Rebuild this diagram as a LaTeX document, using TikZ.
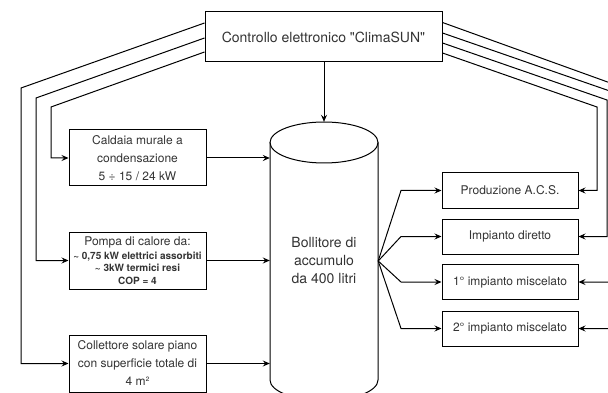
\documentclass[tikz,border=0pt]{standalone}
\usepackage{fontspec}
\newfontfamily\hv{TeX Gyre Heros}
\usetikzlibrary{arrows.meta}
\begin{document}
\begin{tikzpicture}[x=1pt,y=-1pt,
  conn/.style={line width=1pt, draw=black},
  arr/.style={conn, -{Stealth[length=7pt,width=6pt,inset=2.5pt]}},
  box/.style={draw=black, line width=1pt, fill=white, text=black!80, align=center, inner sep=0pt},
  ftw/.style={font=\hv\fontsize{12}{18}\selectfont},
  ffourteen/.style={font=\hv\fontsize{14}{18}\selectfont},
  lbox/.style={box, ftw, minimum width=137pt, minimum height=57pt},
  rbox/.style={box, ftw, minimum width=136pt, minimum height=35pt},
]
\useasboundingbox (0,0) rectangle (608,393);
\clip (0,0) rectangle (608,393);

% nodes
\node[box, ffourteen, minimum width=237pt, minimum height=50pt] (ctrl) at (323.5,37) {Controllo elettronico "ClimaSUN"};
\node[lbox, minimum height=56pt] (caldaia) at (137.5,158) {Caldaia murale a\\condensazione\\5 ÷ 15 / 24 kW};
\node[lbox, font=\hv\fontsize{10}{12.5}\selectfont\bfseries] (pompa) at (137.5,260.5) {{\mdseries\fontsize{12}{14}\selectfont Pompa di calore da:}\\[1pt]\textasciitilde{} 0,75 kW elettrici assorbiti\\\textasciitilde{} 3kW termici resi\\COP = 4};
\node[lbox] (coll) at (137.5,363.5) {Collettore solare piano\\con superficie totale di\\4 m²};

% cylinder
\draw[conn] (324,142.5) ellipse [x radius=54pt, y radius=20.5pt];
\draw[conn] (270,142.5) -- (270,380) arc[start angle=180, end angle=360, x radius=54pt, y radius=20.5pt] -- (378,142.5);
\node[ffourteen, text=black!80, align=center, minimum width=108pt, minimum height=278pt, inner sep=0pt] (cyl) at (324,261) {Bollitore di\\accumulo\\da 400 litri};

\node[rbox] (acs) at (510,190.5) {Produzione A.C.S.};
\node[rbox] (dir) at (510,236.5) {Impianto diretto};
\node[rbox] (m1) at (510,282) {1° impianto miscelato};
\node[rbox] (m2) at (510,328.5) {2° impianto miscelato};

% connectors into the tank
\draw[arr] (ctrl.south -| cyl.north) -- (cyl.north);
\draw[arr] (caldaia.east) -- (caldaia.east -| cyl.west);
\draw[arr] (pompa.east) -- (pompa.east -| cyl.west);
\draw[arr] (coll.east) -- (coll.east -| cyl.west);

% fan out of the tank
\coordinate (fx) at (401,0);
\draw[arr] (cyl.east) -- (fx |- acs.west) -- (acs.west);
\draw[arr] (cyl.east) -- (fx |- dir.west) -- (dir.west);
\draw[arr] (cyl.east) -- (fx |- m1.west) -- (m1.west);
\draw[arr] (cyl.east) -- (fx |- m2.west) -- (m2.west);

% control lines left
\coordinate (la) at (21,88);
\coordinate (lb) at (36,98);
\coordinate (lc) at (51,107);
\draw[arr] (ctrl.west |- 0,23) -- (la) -- (la |- coll.west) -- (coll.west);
\draw[arr] (ctrl.west |- 0,38) -- (lb) -- (lb |- pompa.west) -- (pompa.west);
\draw[arr] (ctrl.west |- 0,52) -- (lc) -- (lc |- caldaia.west) -- (caldaia.west);

% control lines right
\coordinate (ra) at (597,107);
\coordinate (rb) at (607,100);
\coordinate (rc) at (617,93.5);
\coordinate (rd) at (627,89);
\draw[arr] (ctrl.east |- 0,53) -- (ra) -- (ra |- acs.east) -- (acs.east);
\draw[arr] (ctrl.east |- 0,43) -- (rb) -- (rb |- dir.east) -- (dir.east);
\draw[arr] (ctrl.east |- 0,33) -- (rc) -- (rc |- m1.east) -- (m1.east);
\draw[arr] (ctrl.east |- 0,22.5) -- (rd) -- (rd |- m2.east) -- (m2.east);
\end{tikzpicture}
\end{document}
